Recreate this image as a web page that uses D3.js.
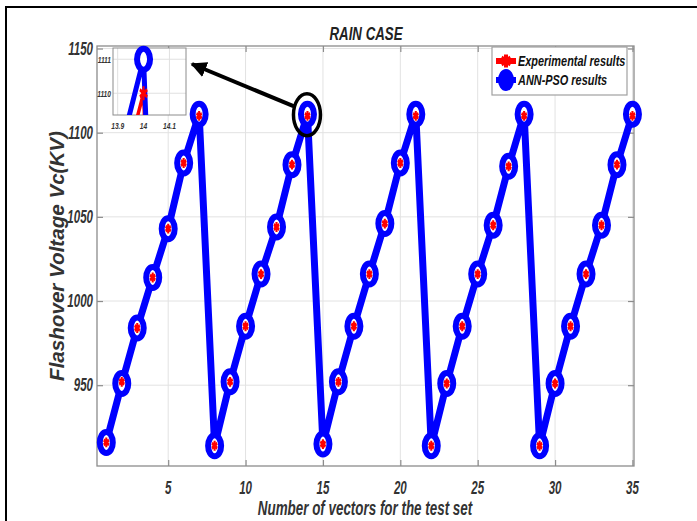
<!DOCTYPE html>
<html><head><meta charset="utf-8">
<script src="https://cdn.jsdelivr.net/npm/d3@7"></script>
<style>body{margin:0;background:#fff}</style>
</head><body>
<script>
// Flashover voltage for each vector of the rain-case test set
const vectorIndex = [1,2,3,4,5,6,7,8,9,10,11,12,13,14,15,16,17,18,19,20,21,22,23,24,25,26,27,28,29,30,31,32,33,34,35];
const experimental = [916,952,984,1014,1043,1082,1110,
                      914,952,985,1016,1044,1081,1110,
                      915,952,985,1016,1046,1082,1110,
                      914,951,985,1016,1045,1080,1110,
                      914,951,985,1016,1045,1081,1110];
const annPso = [916,951,984,1014,1043,1082,1111,
                914,952,985,1016,1044,1081,1111,
                915,952,985,1016,1046,1082,1111,
                914,951,985,1016,1045,1080,1111,
                914,951,985,1016,1045,1081,1111];
const xTicks = [5,10,15,20,25,30,35];
const yTicks = [950,1000,1050,1100,1150];
const insetXTicks = [13.9,14,14.1];
const insetYTicks = [1110,1111];
const seriesNames = ["Experimental results","ANN-PSO results"];
const highlightIndex = 14;

const W = 697, H = 521;
const FONT = "'Liberation Sans',Arial,sans-serif";
const BLUE = "#0000ff", RED = "#ff0000";

const svg = d3.select("body").append("svg").attr("width", W).attr("height", H);

// condensed bold-italic label: text squeezed horizontally by sx
function label(parent, x0, y0, str, size, sx, anchor, fill, rot) {
  const gg = parent.append("g")
    .attr("transform", `translate(${x0},${y0})${rot ? ` rotate(${rot})` : ""} scale(${sx},1)`);
  gg.append("text").attr("text-anchor", anchor || "middle")
    .attr("font-family", FONT).attr("font-size", size).attr("font-weight", "bold").attr("font-style", "italic")
    .attr("fill", fill || "#333").text(str);
  return gg;
}

// figure frame
svg.append("rect").attr("x", 6).attr("y", 7).attr("width", W + 20).attr("height", H + 20)
  .attr("fill", "#fff").attr("stroke", "#000").attr("stroke-width", 2);

const m = {left: 97, top: 46, right: 634, bottom: 466};
const x = d3.scaleLinear().domain([0.4, 35.1]).range([m.left, m.right]);
const y = d3.scaleLinear().domain([902, 1151.5]).range([m.bottom, m.top]);

const pts = vectorIndex.map((v, i) => ({v, e: experimental[i], a: annPso[i]}));

// grid
const g = svg.append("g");
g.selectAll(".gx").data(xTicks).join("line")
  .attr("x1", d => x(d)).attr("x2", d => x(d)).attr("y1", m.top).attr("y2", m.bottom)
  .attr("stroke", "#e2e2e2").attr("stroke-width", 1);
g.selectAll(".gy").data(yTicks).join("line")
  .attr("x1", m.left).attr("x2", m.right).attr("y1", d => y(d)).attr("y2", d => y(d))
  .attr("stroke", "#e2e2e2").attr("stroke-width", 1);

// axes box and tick marks (all four sides)
const AX = "#8c8c8c";
g.append("rect").attr("x", m.left).attr("y", m.top).attr("width", m.right - m.left).attr("height", m.bottom - m.top)
  .attr("fill", "none").attr("stroke", AX).attr("stroke-width", 1.3);
const axB = d3.axisBottom(x).tickValues(xTicks).tickSize(-6).tickFormat("");
const axT = d3.axisTop(x).tickValues(xTicks).tickSize(-6).tickFormat("");
const axL = d3.axisLeft(y).tickValues(yTicks).tickSize(-6).tickFormat("");
const axR = d3.axisRight(y).tickValues(yTicks).tickSize(-6).tickFormat("");
[[axB, `translate(0,${m.bottom})`], [axT, `translate(0,${m.top})`], [axL, `translate(${m.left},0)`], [axR, `translate(${m.right},0)`]]
  .forEach(([ax, tr]) => {
    const a = g.append("g").attr("transform", tr).call(ax);
    a.select(".domain").remove();
    a.selectAll("line").attr("stroke", AX).attr("stroke-width", 1.2);
  });

// tick labels
xTicks.forEach(d => label(g, x(d), 494, d, 17.5, 0.66, "middle"));
yTicks.forEach(d => label(g, 93, y(d) + 6, d, 17.5, 0.66, "end"));

// title and axis labels
label(svg, 366, 40, "RAIN CASE", 19, 0.7, "middle", "#222");
label(svg, 365, 515, "Number of vectors for the test set", 20, 0.67, "middle", "#333");
label(svg, 64, 256, "Flashover Voltage Vc(KV)", 20, 1.03, "middle", "#333", -90);

// series: red experimental line beneath, blue ANN-PSO line and rings over it, red markers on top
function drawSeries(root, xs, ys, opt) {
  const lineE = d3.line().x(d => xs(d.v)).y(d => ys(d.e));
  const lineA = d3.line().x(d => xs(d.v)).y(d => ys(d.a));
  const lines = root.append("g").attr("clip-path", opt.clip ? `url(#${opt.clip})` : null);
  lines.append("path").datum(opt.data).attr("d", lineE).attr("fill", "none")
    .attr("stroke", RED).attr("stroke-width", opt.redW);
  lines.append("path").datum(opt.data).attr("d", lineA).attr("fill", "none")
    .attr("stroke", BLUE).attr("stroke-width", opt.blueW).attr("stroke-linejoin", "round");
  root.append("g").selectAll("ellipse").data(opt.markers).join("ellipse")
    .attr("cx", d => xs(d.v)).attr("cy", d => ys(d.a)).attr("rx", 6.5).attr("ry", 10.5)
    .attr("fill", "#fff").attr("stroke", BLUE).attr("stroke-width", 6);
  const star = d3.symbol().type(d3.symbolAsterisk).size(opt.starSize);
  root.append("g").selectAll("path").data(opt.markers).join("path")
    .attr("d", star).attr("transform", d => `translate(${xs(d.v)},${ys(d.e)}) scale(0.8,1.3)`)
    .attr("fill", "none").attr("stroke", RED).attr("stroke-width", 2.6);
}

drawSeries(svg.append("g"), x, y, {data: pts, markers: pts, redW: 3, blueW: 7, starSize: 40});

// highlighted point
const hp = pts.find(d => d.v === highlightIndex);
svg.append("ellipse").attr("cx", x(hp.v) - 0.5).attr("cy", y(hp.a) + 0.5).attr("rx", 13.5).attr("ry", 21)
  .attr("fill", "none").attr("stroke", "#000").attr("stroke-width", 3.5);

// inset: close-up around the highlighted point
const ib = {left: 113, top: 48, right: 186, bottom: 115};
const ix = d3.scaleLinear().domain([13.882, 14.164]).range([ib.left, ib.right]);
const iy = d3.scaleLinear().domain([1109.36, 1111.33]).range([ib.bottom, ib.top]);
const ig = svg.append("g");
ig.append("rect").attr("x", ib.left).attr("y", ib.top).attr("width", ib.right - ib.left).attr("height", ib.bottom - ib.top)
  .attr("fill", "#fff");
ig.selectAll(".igx").data(insetXTicks).join("line")
  .attr("x1", d => ix(d)).attr("x2", d => ix(d)).attr("y1", ib.top).attr("y2", ib.bottom)
  .attr("stroke", "#e0e0e0");
ig.selectAll(".igy").data(insetYTicks).join("line")
  .attr("x1", ib.left).attr("x2", ib.right).attr("y1", d => iy(d)).attr("y2", d => iy(d))
  .attr("stroke", "#e0e0e0");
ig.append("rect").attr("x", ib.left).attr("y", ib.top).attr("width", ib.right - ib.left).attr("height", ib.bottom - ib.top)
  .attr("fill", "none").attr("stroke", AX).attr("stroke-width", 1);
svg.append("defs").append("clipPath").attr("id", "insetClip").append("rect")
  .attr("x", ib.left).attr("y", ib.top).attr("width", ib.right - ib.left).attr("height", ib.bottom - ib.top);
insetXTicks.forEach(d => label(ig, ix(d), 129, d, 9.5, 0.7, "middle"));
insetYTicks.forEach(d => label(ig, 111, iy(d) + 3.5, d, 9.5, 0.7, "end"));
const near = pts.filter(d => d.v >= 13 && d.v <= 15);
drawSeries(ig, ix, iy, {data: near, markers: [hp], clip: "insetClip", redW: 3.5, blueW: 5, starSize: 80});

// arrow from the highlighted point to the inset
svg.append("defs").append("marker").attr("id", "arrowHead").attr("viewBox", "0 0 10 10")
  .attr("refX", 9).attr("refY", 5).attr("markerWidth", 4).attr("markerHeight", 4).attr("orient", "auto")
  .append("path").attr("d", "M0,0 L10,5 L0,10 z").attr("fill", "#000");
svg.append("line").attr("x1", x(hp.v) - 14).attr("y1", y(hp.a) - 8).attr("x2", ib.right + 6).attr("y2", ib.top + 16)
  .attr("stroke", "#000").attr("stroke-width", 4).attr("marker-end", "url(#arrowHead)");

// legend
const lg = svg.append("g");
lg.append("rect").attr("x", 492).attr("y", 47).attr("width", 135).attr("height", 48)
  .attr("fill", "#fff").attr("stroke", "#a0a0a0").attr("stroke-width", 1.2);
const lgY = [61, 80];
lg.append("line").attr("x1", 496).attr("x2", 516).attr("y1", lgY[0]).attr("y2", lgY[0]).attr("stroke", RED).attr("stroke-width", 6);
lg.append("path").attr("d", d3.symbol().type(d3.symbolAsterisk).size(80))
  .attr("transform", `translate(506,${lgY[0]}) scale(1,1.2)`).attr("stroke", RED).attr("stroke-width", 4).attr("fill", "none");
lg.append("line").attr("x1", 496).attr("x2", 516).attr("y1", lgY[1]).attr("y2", lgY[1]).attr("stroke", BLUE).attr("stroke-width", 6);
lg.append("ellipse").attr("cx", 506).attr("cy", lgY[1]).attr("rx", 6).attr("ry", 9)
  .attr("fill", BLUE).attr("stroke", BLUE).attr("stroke-width", 4);
seriesNames.forEach((d, i) => label(lg, 518, lgY[i] + 5, d, 14, 0.78, "start", "#111"));
</script>
</body></html>
